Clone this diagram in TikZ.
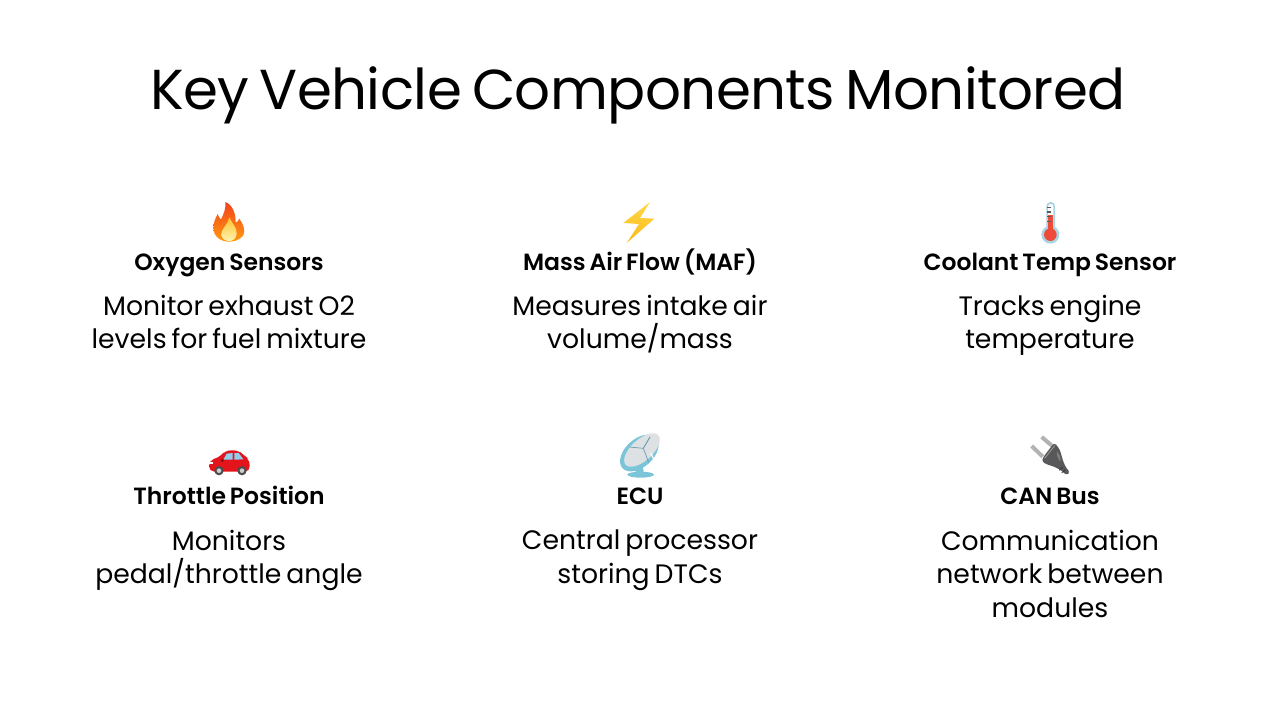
\documentclass[tikz,border=0pt]{standalone}
\usepackage{fontspec}
\setmainfont{Poppins}[WordSpace=0.7, BoldFont={Poppins SemiBold}]
\usepackage{xcolor}
\usetikzlibrary{calc}

\definecolor{flameA}{HTML}{F2431E}
\definecolor{flameB}{HTML}{FF9A0F}
\definecolor{flameC}{HTML}{FFC42E}
\definecolor{flameD}{HTML}{FFF2B0}
\definecolor{boltA}{HTML}{FFD84D}
\definecolor{boltB}{HTML}{FDB913}
\definecolor{tubeblue}{HTML}{A9D5E2}
\definecolor{mercury}{HTML}{EE4B3A}
\definecolor{carred}{HTML}{E3141C}
\definecolor{carglass}{HTML}{92CDEE}
\definecolor{dishblue}{HTML}{7CC4D8}
\definecolor{dishgrey}{HTML}{DDE1E3}
\definecolor{plugdark}{HTML}{58585A}

\tikzset{
  titletxt/.style={font=\fontsize{42.2}{50}\selectfont\addfontfeature{LetterSpace=-1}, anchor=base},
  headtxt/.style={font=\fontsize{17.6}{22}\selectfont\bfseries, anchor=base},
  bodytxt/.style={font=\fontsize{20}{25.2}\selectfont, align=center, anchor=north},
  iconfire/.pic={
    \begin{scope}[scale=1/3, shift={(-120,-90)}]
      \shade[top color=flameA, bottom color=flameB] (106,36) .. controls (128,44) and (138,72) .. (137,98)
        .. controls (141,96) and (146,92) .. (148,86) .. controls (160,102) and (167,122) .. (160,136)
        .. controls (150,150) and (132,155) .. (117,155) .. controls (94,155) and (71,142) .. (70,114)
        .. controls (70,96) and (77,84) .. (83,72) .. controls (86,80) and (89,86) .. (93,88)
        .. controls (101,72) and (108,56) .. (106,36) -- cycle;
      \shade[top color=flameC, bottom color=flameD] (118,82) .. controls (124,98) and (142,112) .. (140,132)
        .. controls (138,147) and (128,153) .. (118,153) .. controls (104,153) and (94,145) .. (94,132)
        .. controls (94,116) and (114,104) .. (118,82) -- cycle;
    \end{scope}
  },
  iconbolt/.pic={
    \begin{scope}[scale=1/3, shift={(-120,-90)}]
      \shade[top color=boltA, bottom color=boltB] (150,36) -- (70,99) -- (117,102) -- (80,159) -- (163,86) -- (120,84) -- cycle;
    \end{scope}
  },
  iconthermo/.pic={
    \begin{scope}[scale=1/3, shift={(-120,-90)}]
      \fill[tubeblue] (121,134) circle (27);
      \fill[tubeblue, rounded corners=3] (109,36) rectangle (135,120);
      \fill[white, rounded corners=2] (114,42) rectangle (130,115);
      \fill[mercury] (114,74) rectangle (130,120);
      \fill[mercury] (121,134) circle (19);
      \foreach \yy in {50,64,78,92}
        \fill[black!65] (112,\yy) rectangle (123,\yy+4);
    \end{scope}
  },
  iconcar/.pic={
    \begin{scope}[scale=1/3, shift={(-120,-90)}]
      \fill[carred, rounded corners=4] (57,140) -- (57,106) -- (90,96) -- (106,76) -- (146,76) -- (162,92) -- (178,102) -- (180,140) -- cycle;
      \fill[carglass] (100,104) -- (110,86) -- (128,84) -- (128,104) -- cycle;
      \fill[carglass] (133,84) -- (146,84) -- (160,103) -- (133,104) -- cycle;
      \fill[white] (57,110) rectangle (68,118);
      \fill[carred!60!black] (97,106) circle (5);
      \foreach \xx in {87,156} {
        \fill[black!70] (\xx,137) circle (14);
        \fill[black!20] (\xx,137) circle (7);
      }
    \end{scope}
  },
  icondish/.pic={
    \begin{scope}[scale=1/3, shift={(-120,-90)}]
      \fill[dishblue] (122,149) ellipse (40 and 9);
      \fill[dishblue] (100,108) -- (128,122) -- (132,146) -- (108,146) -- cycle;
      \fill[dishblue] (118,84) ellipse [x radius=68, y radius=42, rotate=42];
      \fill[dishgrey] (126,75) ellipse [x radius=66, y radius=32, rotate=42];
      \draw[dishblue!80!black, line width=.7] (150,36) -- (130,70);
      \draw[dishblue!80!black, line width=.5] (130,70) -- (88,66);
      \draw[dishblue!80!black, line width=.5] (130,70) -- (146,112);
      \draw[white, line width=.8] (152,84) -- (166,112);
    \end{scope}
  },
  iconplug/.pic={
    \begin{scope}[scale=1/3, shift={(-120,-90)}]
      \draw[black!30, line width=3] (95,36) -- (128,64);
      \draw[black!30, line width=3] (65,63) -- (98,95);
      \fill[plugdark, rounded corners=2] (133,53) -- (148,71) -- (153,86) -- (160,111) -- (170,131) -- (180,141) -- (170,151) -- (153,136) -- (135,126) -- (110,118) -- (95,109) -- (100,96) -- cycle;
      \fill[black!50, rounded corners=1] (140,78) -- (150,92) -- (152,112) -- (142,96) -- cycle;
      \draw[black!35, line width=.5] (104,100) -- (134,62);
      \foreach \tt in {0,8}
        \draw[black!80, line width=.5] (158+\tt,126+\tt) -- (147+\tt,136+\tt);
    \end{scope}
  },
}

\begin{document}
\begin{tikzpicture}[x=0.75pt, y=-0.75pt]
  \useasboundingbox (0,0) rectangle (1280,720);

  \node[titletxt] (title) at (638,110) {Key Vehicle Components Monitored};

  % top row
  \pic at (230,220) {iconfire};
  \pic at (640,220) {iconbolt};
  \pic at (1050,220) {iconthermo};

  \node[headtxt] (oxygen) at (229,270) {Oxygen Sensors};
  \node[headtxt] (maf) at (640,270) {Mass Air Flow (MAF)};
  \node[headtxt] (coolant) at (1050,270) {Coolant Temp Sensor};

  \node[bodytxt] (oxygentxt) at (229,290) {Monitor exhaust O2\\levels for fuel mixture};
  \node[bodytxt] (maftxt) at (640,290) {Measures intake air\\volume/mass};
  \node[bodytxt] (coolanttxt) at (1050,290) {Tracks engine\\temperature};

  % bottom row
  \pic at (230,455) {iconcar};
  \pic at (640,455) {icondish};
  \pic at (1050,455) {iconplug};

  \node[headtxt] (throttle) at (229,504) {Throttle Position};
  \node[headtxt] (ecu) at (640,504) {ECU};
  \node[headtxt] (can) at (1050,504) {CAN Bus};

  \node[bodytxt] (throttletxt) at (229,525) {Monitors\\pedal/throttle angle};
  \node[bodytxt] (ecutxt) at (640,525) {Central processor\\storing DTCs};
  \node[bodytxt] (cantxt) at (1050,525) {Communication\\network between\\modules};
\end{tikzpicture}
\end{document}
